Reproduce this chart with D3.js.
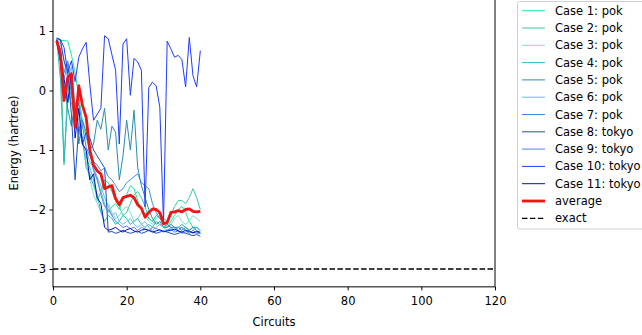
<!DOCTYPE html>
<html>
<head>
<meta charset="utf-8">
<script src="https://cdn.jsdelivr.net/npm/d3@7"></script>
<style>
  body { margin: 0; background: #fff; }
  text { font-family: "DejaVu Sans", sans-serif; }
</style>
</head>
<body>
<svg id="chart" width="642" height="335"></svg>
<script>
// data
const circuits = d3.range(1, 41);
const caseNames = ["Case 1: pok", "Case 2: pok", "Case 3: pok", "Case 4: pok", "Case 5: pok", "Case 6: pok",
  "Case 7: pok", "Case 8: tokyo", "Case 9: tokyo", "Case 10: tokyo", "Case 11: tokyo"];

const case1 = [0.86, 0.84, 0.84, 0.83, 0.6, 0.3, -0.1, -0.5, -0.8, -0.95, -1.3, -1.5, -1.7, -1.9, -2.05, -1.95, -1.9, -2.0, -1.85, -1.75,
  -1.6, -1.65, -1.85, -2.0, -2.1, -2.15, -2.2, -2.1, -2.15, -2.25, -2.3, -2.2, -2.1, -2.0, -1.95, -2.05, -2.2, -2.3, -2.3, -2.35];
const case2 = [0.84, 0.7, -1.25, 0.1, -0.2, -0.5, -0.3, -0.9, -1.1, -1.3, -1.5, -1.85, -1.7, -1.5, -1.55, -1.7, -1.85, -1.95, -2.1, -2.05,
  -1.9, -1.75, -1.7, -1.8, -1.95, -2.15, -2.2, -2.1, -2.05, -2.15, -2.2, -2.1, -1.95, -1.85, -1.85, -1.9, -1.8, -1.65, -1.8, -2.0];
const case3 = [0.83, 0.5, 0.35, 0.4, 0.1, -0.2, -0.4, -0.8, -1.2, -1.5, -1.75, -1.9, -2.05, -2.0, -1.9, -2.05, -2.15, -2.1, -2.0, -1.95,
  -2.05, -2.2, -2.15, -2.05, -2.1, -2.2, -2.25, -2.15, -2.1, -2.2, -2.3, -2.25, -2.15, -2.1, -2.2, -2.25, -2.2, -2.1, -2.15, -2.2];
const case4 = [0.85, 0.2, -1.2, -0.2, 0.0, -0.4, -0.7, -0.8, -1.3, -1.4, -1.6, -1.75, -2.05, -2.2, -2.1, -2.15, -2.25, -2.2, -2.1, -2.15,
  -2.25, -2.2, -2.15, -2.25, -2.3, -2.25, -2.3, -2.2, -2.25, -2.3, -2.25, -2.3, -2.35, -2.3, -2.25, -2.3, -2.35, -2.3, -2.3, -2.35];
const case5 = [0.82, 0.5, 0.1, -0.3, -0.6, -0.2, -0.9, -0.5, -0.7, -1.0, -0.9, -0.5, -0.65, -0.3, -1.0, -0.6, -0.7, -1.5, -1.1, -0.5,
  -1.0, -0.33, -1.3, -1.6, -1.8, -2.0, -2.15, -2.25, -2.2, -2.3, -2.3, -2.25, -2.3, -2.3, -2.35, -2.3, -2.35, -2.3, -2.35, -2.4];
const case6 = [0.84, 0.8, 0.5, 0.2, 0.4, -0.3, -0.5, -0.9, -1.0, -1.2, -1.3, -1.45, -1.6, -1.8, -1.95, -2.1, -2.05, -2.2, -2.25, -2.2,
  -2.15, -2.25, -2.3, -2.25, -2.2, -2.3, -2.35, -2.3, -2.25, -2.3, -2.35, -2.3, -2.35, -2.3, -2.3, -2.35, -2.4, -2.35, -2.3, -2.35];
const case7 = [0.87, 0.6, 0.3, 0.5, 0.1, -0.5, -0.2, -0.6, -0.95, -1.1, -1.2, -1.25, -1.35, -1.3, -1.45, -1.5, -1.6, -1.7, -1.65, -1.55,
  -1.5, -1.45, -1.4, -1.55, -1.6, -1.65, -1.9, -2.05, -2.15, -2.2, -2.25, -2.3, -2.3, -2.35, -2.3, -2.35, -2.4, -2.35, -2.4, -2.4];
const case8 = [0.88, 0.85, 0.5, 0.3, -0.4, -1.5, -0.6, -0.9, -0.7, -0.8, -1.0, -1.1, -1.2, -1.3, -2.38, -2.37, -2.4, -2.38, -2.35, -2.38,
  -2.4, -2.38, -2.36, -2.4, -2.38, -2.35, -2.37, -2.4, -2.38, -2.36, -2.38, -2.4, -2.42, -2.4, -2.38, -2.4, -2.42, -2.44, -2.42, -2.45];
const case9 = [0.86, 0.7, 0.2, 0.45, -0.1, -0.3, -0.6, -0.8, -0.75, -1.05, -1.35, -1.5, -1.75, -1.95, -2.0, -2.1, -2.2, -2.25, -2.3, -2.28,
  -2.32, -2.3, -2.35, -2.3, -2.33, -2.36, -2.3, -2.32, -2.35, -2.38, -2.35, -2.33, -2.38, -2.36, -2.4, -2.38, -2.35, -2.4, -2.38, -2.4];
const case10 = [0.88, 0.86, 0.72, 0.30, 0.50, 0.15, 0.56, 0.70, 0.81, 0.10, -0.50, -0.40, -0.30, 0.92, 0.87, 0.60, 0.34, -0.90, 0.78, 0.87,
  -0.08, 0.54, 0.48, 0.34, -1.96, 0.05, 0.14, 0.08, -0.28, -2.24, 0.83, 0.70, 0.56, 0.59, 0.52, 0.06, 0.89, 0.25, 0.06, 0.67];
const case11 = [0.85, 0.5, 0.2, -0.2, 0.3, -0.8, -0.3, -0.9, -1.0, -1.5, -1.4, -1.8, -1.9, -2.3, -2.35, -2.33, -2.3, -2.35, -2.38, -2.34,
  -2.32, -2.36, -2.38, -2.35, -2.33, -2.35, -2.38, -2.36, -2.34, -2.37, -2.36, -2.35, -2.33, -2.36, -2.38, -2.35, -2.37, -2.39, -2.37, -2.38];
const average = [0.84, 0.62, -0.17, 0.22, 0.28, -0.62, 0.08, -0.25, -0.45, -1.0, -1.25, -1.35, -1.40, -1.65, -1.62, -1.60, -1.82, -1.92, -1.80, -1.78,
  -1.76, -1.80, -1.92, -1.98, -2.13, -2.05, -1.99, -2.00, -2.05, -2.24, -2.22, -2.05, -2.04, -2.02, -2.04, -2.00, -1.99, -2.03, -2.04, -2.03];
const exactEnergy = -3;
const exactRange = [0, 120];

const xTicks = [0, 20, 40, 60, 80, 100, 120];
const yTicks = [-3, -2, -1, 0, 1];

const caseValues = [case1, case2, case3, case4, case5, case6, case7, case8, case9, case10, case11];
const caseColors = ["#1de9a0", "#3cc8a0", "#80dcd0", "#2cbcc0", "#2a8cb0", "#70b8e0", "#3a90e8",
  "#1e50c0", "#5a80f0", "#1f3cff", "#0010c0"];

const svg = d3.select("#chart");
const fontSize = 11.5;

const x = d3.scaleLinear().domain([0, 120]).range([53, 495]);
const y = d3.scaleLinear().domain([-3, 1]).range([269, 31]);
const plotBottom = y(-3.3);

const line = d3.line()
  .x((d, i) => x(circuits[i]))
  .y(d => y(d));

const lines = svg.append("g");
caseValues.forEach((vals, i) => {
  lines.append("path")
    .attr("d", line(vals))
    .attr("fill", "none")
    .attr("stroke", caseColors[i])
    .attr("stroke-width", 1);
});

lines.append("path")
  .attr("d", line(average))
  .attr("fill", "none")
  .attr("stroke", "#f01414")
  .attr("stroke-width", 2.8)
  .attr("stroke-linejoin", "round");

svg.append("line")
  .attr("x1", x(exactRange[0])).attr("x2", x(exactRange[1]))
  .attr("y1", y(exactEnergy)).attr("y2", y(exactEnergy))
  .attr("stroke", "#000")
  .attr("stroke-width", 1.3)
  .attr("stroke-dasharray", "5.5,2.4");

// frame (top edge is outside the picture)
svg.append("rect")
  .attr("x", 53).attr("y", -2)
  .attr("width", 442).attr("height", plotBottom + 2)
  .attr("fill", "none").attr("stroke", "#000").attr("stroke-width", 1);

const xAxis = svg.append("g")
  .attr("transform", "translate(0," + plotBottom + ")")
  .call(d3.axisBottom(x).tickValues(xTicks).tickFormat(d3.format("d"))
    .tickSize(3.5).tickPadding(6).tickSizeOuter(0));
xAxis.select(".domain").remove();
xAxis.selectAll("text").attr("font-size", fontSize).attr("fill", "#000").attr("font-family", "DejaVu Sans");

const yAxis = svg.append("g")
  .attr("transform", "translate(53,0)")
  .call(d3.axisLeft(y).tickValues(yTicks).tickFormat(d3.format("d"))
    .tickSize(3.5).tickPadding(3.5).tickSizeOuter(0));
yAxis.select(".domain").remove();
yAxis.selectAll("text").attr("font-size", fontSize).attr("fill", "#000").attr("font-family", "DejaVu Sans");

svg.append("text")
  .attr("x", 274).attr("y", 326)
  .attr("text-anchor", "middle")
  .attr("font-size", fontSize)
  .text("Circuits");

svg.append("text")
  .attr("transform", "translate(18," + 143 + ") rotate(-90)")
  .attr("text-anchor", "middle")
  .attr("font-size", fontSize)
  .text("Energy (hartree)");

// legend
const legend = svg.append("g");
legend.append("rect")
  .attr("x", 517.5).attr("y", 1.5)
  .attr("width", 140).attr("height", 227.5)
  .attr("rx", 2)
  .attr("fill", "#fff")
  .attr("stroke", "#d0d0d0");

const legendItems = caseNames.map((name, i) => ({ name, color: caseColors[i], width: 1, dash: null }))
  .concat([{ name: "average", color: "#f01414", width: 2.8, dash: null },
           { name: "exact", color: "#000", width: 1.3, dash: "5.5,2.4" }]);

legendItems.forEach((d, i) => {
  const cy = 10.7 + i * 17.3;
  legend.append("line")
    .attr("x1", 522).attr("x2", 545)
    .attr("y1", cy).attr("y2", cy)
    .attr("stroke", d.color)
    .attr("stroke-width", d.width)
    .attr("stroke-dasharray", d.dash);
  legend.append("text")
    .attr("x", 555).attr("y", cy + 4)
    .attr("font-size", fontSize)
    .text(d.name);
});
</script>
</body>
</html>
